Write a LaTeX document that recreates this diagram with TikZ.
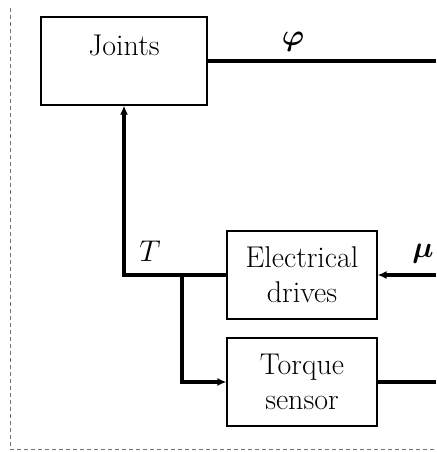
\documentclass[tikz,border=0pt]{standalone}
\usepackage{fix-cm}
\usepackage{amsmath,bm}
\usepackage{fontspec}
\setmainfont{Latin Modern Roman}
\usetikzlibrary{arrows.meta}
\begin{document}
\begin{tikzpicture}[x=1pt,y=-1pt,
  blk/.style={draw,line width=1.1pt,minimum width=150pt,minimum height=88pt,inner sep=0pt,align=center,font=\fontsize{30}{35}\selectfont},
  sig/.style={line width=3.2pt},
  sigarr/.style={line width=3.2pt,-{Latex[length=9pt,width=8pt]}},
  lbl/.style={font=\fontsize{30}{34}\selectfont}]
\useasboundingbox (0,0) rectangle (436,452);
\draw[dashed,dash pattern=on 4pt off 3pt,black!55,line width=0.8pt] (10,8) -- (10,449) -- (436,449);
\node[blk,minimum width=166pt] (joints) at (124,61) {};
\node[lbl,anchor=center] (jtxt) at (124,45) {Joints};
\node[blk] (elec) at (302,275) {Electrical\\drives};
\node[blk] (torque) at (302,382) {Torque\\sensor};
\coordinate (phiend) at (436,61);
\coordinate (muin) at (436,275);
\coordinate (tend) at (436,382);
\coordinate (br) at (182,275);
\draw[sig] (joints.east) -- (phiend);
\draw[sigarr] (elec.west) -| (joints.south);
\draw[sigarr] (br) |- (torque.west);
\draw[sigarr] (muin) -- (elec.east);
\draw[sig] (torque.east) -- (tend);
\node[lbl] (phi) at (293,42) {$\bm{\varphi}$};
\node[lbl] (T) at (150,251) {$T$};
\node[lbl] (mu) at (423,254) {$\bm{\mu}$};
\end{tikzpicture}
\end{document}
